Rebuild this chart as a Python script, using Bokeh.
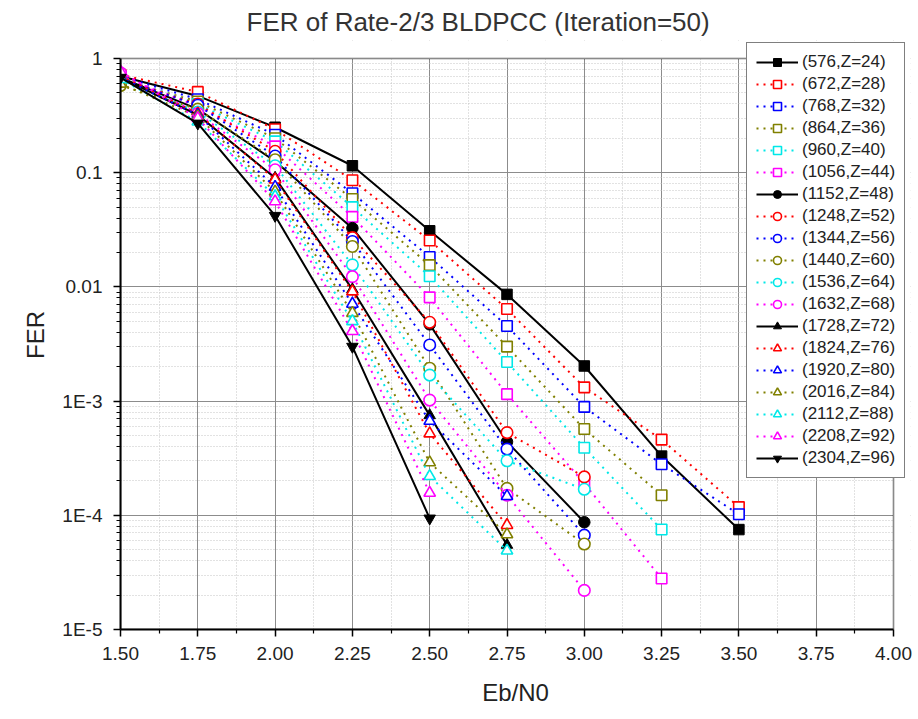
from bokeh.plotting import figure
from bokeh.models import FixedTicker, Legend, LegendItem, Range1d, BoxAnnotation
from bokeh.embed import file_html
from bokeh.resources import INLINE

ebn0 = [1.50, 1.75, 2.00, 2.25, 2.50, 2.75, 3.00, 3.25, 3.50]

fer_576 = [0.70, 0.47, 0.25, 0.115, 0.031, 0.0086, 0.00203, 3.3e-4, 7.5e-5]
fer_672 = [0.72, 0.51, 0.24, 0.086, 0.0255, 0.0064, 0.00132, 4.6e-4, 1.18e-4]
fer_768 = [0.70, 0.44, 0.215, 0.066, 0.0183, 0.00455, 8.9e-4, 2.8e-4, 1.02e-4]
fer_864 = [0.65, 0.42, 0.20, 0.0588, 0.0155, 0.0030, 5.7e-4, 1.5e-4]
fer_960 = [0.68, 0.40, 0.188, 0.050, 0.0124, 0.0022, 3.9e-4, 7.5e-5]
fer_1056 = [0.70, 0.38, 0.17, 0.041, 0.0081, 0.00115, 1.9e-4, 2.8e-5]
fer_1152 = [0.68, 0.36, 0.126, 0.0327, 0.0047, 4.4e-4, 8.7e-5]
fer_1248 = [0.66, 0.40, 0.154, 0.027, 0.0049, 5.3e-4, 2.17e-4]
fer_1344 = [0.66, 0.39, 0.14, 0.025, 0.0031, 3.8e-4, 6.7e-5]
fer_1440 = [0.58, 0.36, 0.13, 0.0226, 0.00194, 1.72e-4, 5.6e-5]
fer_1536 = [0.65, 0.34, 0.115, 0.0156, 0.00169, 3.0e-4, 1.69e-4]
fer_1632 = [0.75, 0.33, 0.106, 0.0123, 0.00102, 1.5e-4, 2.2e-5]
fer_1728 = [0.68, 0.32, 0.09, 0.0095, 7.5e-4, 5.5e-5]
fer_1824 = [0.70, 0.33, 0.087, 0.0091, 5.2e-4, 8.2e-5]
fer_1920 = [0.68, 0.32, 0.075, 0.0071, 6.7e-4, 1.47e-4]
fer_2016 = [0.60, 0.31, 0.068, 0.0059, 2.9e-4, 6.8e-5]
fer_2112 = [0.66, 0.28, 0.062, 0.0050, 2.2e-4, 4.9e-5]
fer_2208 = [0.77, 0.30, 0.056, 0.0041, 1.57e-4]
fer_2304 = [0.68, 0.27, 0.042, 0.0030, 9.4e-5]

labels = ["(576,Z=24)", "(672,Z=28)", "(768,Z=32)", "(864,Z=36)", "(960,Z=40)",
          "(1056,Z=44)", "(1152,Z=48)", "(1248,Z=52)", "(1344,Z=56)", "(1440,Z=60)",
          "(1536,Z=64)", "(1632,Z=68)", "(1728,Z=72)", "(1824,Z=76)", "(1920,Z=80)",
          "(2016,Z=84)", "(2112,Z=88)", "(2208,Z=92)", "(2304,Z=96)"]
series = [fer_576, fer_672, fer_768, fer_864, fer_960, fer_1056, fer_1152, fer_1248,
          fer_1344, fer_1440, fer_1536, fer_1632, fer_1728, fer_1824, fer_1920,
          fer_2016, fer_2112, fer_2208, fer_2304]

x_ticks = [1.50, 1.75, 2.00, 2.25, 2.50, 2.75, 3.00, 3.25, 3.50, 3.75, 4.00]
x_minor = [1.625, 1.875, 2.125, 2.375, 2.625, 2.875, 3.125, 3.375, 3.625, 3.875]
y_ticks = [1e-5, 1e-4, 1e-3, 1e-2, 1e-1, 1.0]
y_tick_labels = ["1E-5", "1E-4", "1E-3", "0.01", "0.1", "1"]

X_MIN, X_MAX = 1.5, 4.0
Y_MIN, Y_MAX = 1e-5, 1.0

palette = ["black", "#FF0000", "#0000FF", "#808000", "#00E8E8", "#FF00FF"]
shapes = ["square"] * 6 + ["circle"] * 6 + ["triangle"] * 6 + ["inverted_triangle"]

FONT = "Liberation Sans"

# pixel layout: axis box spans 120..893 (x) and 58..629 (y); the frame is a bit
# larger (up to 910 on the right, 40 on top) so the legend can overhang the box.
W, H = 918, 719
BOX_L, BOX_R, BOX_T, BOX_B = 120, 893, 58, 629
FR_R, FR_T = 910, 40
px_per_x = (BOX_R - BOX_L) / (X_MAX - X_MIN)
px_per_dec = (BOX_B - BOX_T) / 5.0
x_end = X_MAX + (FR_R - BOX_R) / px_per_x
y_end = Y_MAX * 10 ** ((BOX_T - FR_T) / px_per_dec)

p = figure(width=W, height=H, y_axis_type="log",
           x_range=Range1d(X_MIN, x_end), y_range=Range1d(Y_MIN, y_end),
           output_backend="svg", toolbar_location=None,
           min_border_left=BOX_L, min_border_right=W - FR_R, min_border_top=FR_T,
           min_border_bottom=H - BOX_B)

p.title.text = "FER of Rate-2/3 BLDPCC (Iteration=50)"
p.title.align = "left"
p.title.offset = 126
p.title.text_font = FONT
p.title.text_font_size = "26px"
p.title.text_font_style = "normal"
p.title.text_color = "#333333"
p.title.standoff = 7

p.outline_line_color = None

p.xaxis.ticker = FixedTicker(ticks=x_ticks, minor_ticks=x_minor)
p.xaxis.major_label_overrides = {t: f"{t:.2f}" for t in x_ticks}
y_minor = [m * 10.0 ** e for e in range(-5, 0) for m in range(2, 10)]
p.yaxis.ticker = FixedTicker(ticks=y_ticks, minor_ticks=y_minor)
p.yaxis.major_label_overrides = dict(zip(y_ticks, y_tick_labels))
p.xaxis.bounds = (X_MIN, X_MAX)
p.yaxis.bounds = (Y_MIN, Y_MAX)

for ax in (p.xaxis, p.yaxis):
    ax.axis_line_color = "black"
    ax.axis_line_width = 2
    ax.major_tick_line_color = "black"
    ax.major_tick_line_width = 1.5
    ax.minor_tick_line_color = "black"
    ax.minor_tick_line_width = 1.2
    ax.major_tick_in = 0
    ax.major_tick_out = 7
    ax.minor_tick_in = 0
    ax.minor_tick_out = 4
    ax.major_label_text_font = FONT
    ax.major_label_text_font_size = "19px"
    ax.major_label_text_color = "#222222"
    ax.axis_label_text_font = FONT
    ax.axis_label_text_font_size = "24px"
    ax.axis_label_text_font_style = "normal"
    ax.axis_label_text_color = "#222222"

p.xaxis.axis_label = "Eb/N0"
p.yaxis.axis_label = "FER"
p.xaxis.major_label_standoff = 10
p.xaxis.axis_label_standoff = 16
p.yaxis.major_label_standoff = 11
p.yaxis.axis_label_standoff = 10

for g in (p.xgrid, p.ygrid):
    g.grid_line_color = "#8c8c8c"
    g.grid_line_width = 1
    g.minor_grid_line_color = "#c4c4c4"
    g.minor_grid_line_dash = "1 2"
    g.minor_grid_line_width = 1

items = []
for i, (lab, ys) in enumerate(zip(labels, series)):
    xs = ebn0[:len(ys)]
    black = (i % 6 == 0) if i < 18 else True
    color = palette[i % 6] if i < 18 else "black"
    size = 10.5 if shapes[i] == "square" else 11.5
    if black:
        lr = p.line(xs, ys, line_color="black", line_width=2)
        sr = p.scatter(xs, ys, marker=shapes[i], size=size,
                       line_color="black", fill_color="black", line_width=1)
    else:
        lr = p.line(xs, ys, line_color=color, line_width=2, line_dash="2 5")
        sr = p.scatter(xs, ys, marker=shapes[i], size=size,
                       line_color=color, fill_color="white", line_width=1.6)
    items.append(LegendItem(label=lab, renderers=[lr, sr]))

# blank the strips outside the axis box, then draw the box itself
p.add_layout(BoxAnnotation(bottom=Y_MAX, fill_color="white", fill_alpha=1,
                           line_alpha=0, level="underlay"))
p.add_layout(BoxAnnotation(left=X_MAX, fill_color="white", fill_alpha=1,
                           line_alpha=0, level="underlay"))
p.add_layout(BoxAnnotation(left=X_MIN, right=X_MAX, bottom=Y_MIN, top=Y_MAX,
                           fill_alpha=0, line_color="black", line_width=2))

legend = Legend(items=items, location=(746 - BOX_L, BOX_B - 478))
legend.label_text_font = FONT
legend.label_text_font_size = "17px"
legend.label_text_color = "#222222"
legend.glyph_width = 42
legend.glyph_height = 20
legend.label_height = 20
legend.spacing = 2
legend.padding = 9
legend.margin = 0
legend.label_standoff = 4
legend.border_line_color = "black"
legend.border_line_width = 1.5
legend.background_fill_color = "white"
legend.background_fill_alpha = 1
p.add_layout(legend)

open("out.html", "w").write(file_html(p, INLINE))
